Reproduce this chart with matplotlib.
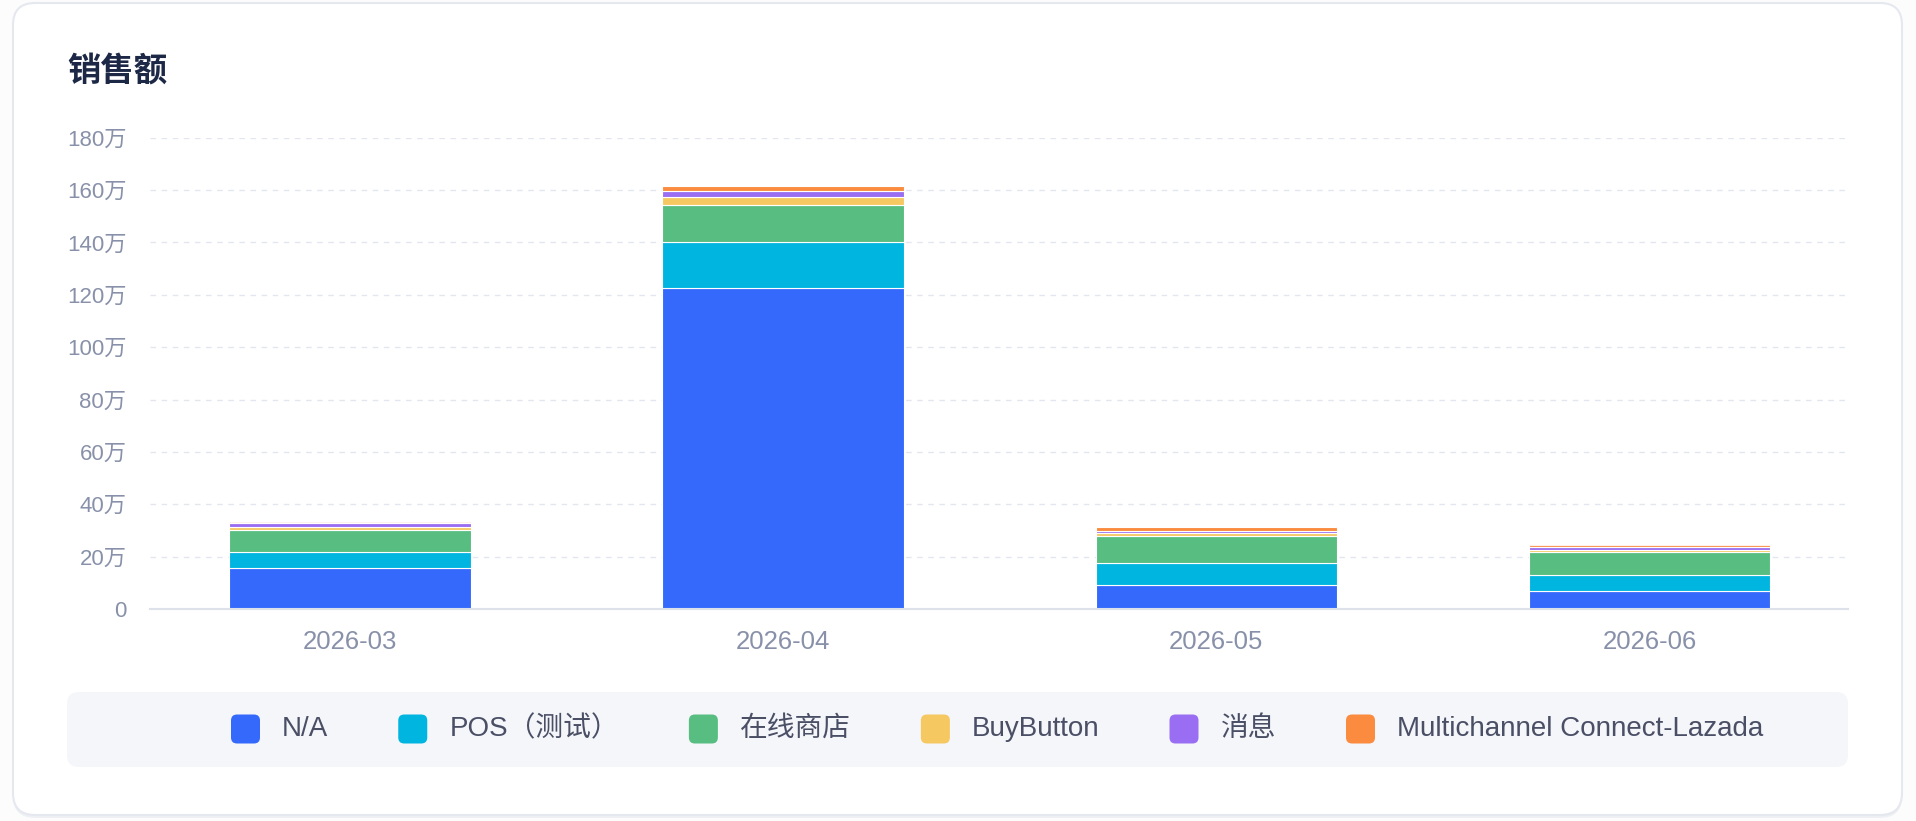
import matplotlib
matplotlib.use("Agg")
import matplotlib.pyplot as plt
from matplotlib.patches import FancyBboxPatch
from matplotlib.transforms import IdentityTransform
from matplotlib.ticker import FuncFormatter, MultipleLocator
import numpy as np

plt.rcParams['font.family'] = ['Liberation Sans', 'Noto Sans CJK SC', 'DejaVu Sans']

# data (sales per month, per channel)
months = ['2026-03', '2026-04', '2026-05', '2026-06']
channels = ['N/A', 'POS（测试）', '在线商店', 'BuyButton', '消息', 'Multichannel Connect-Lazada']
colors = ['#3469fb', '#00b5e0', '#57bd80', '#f6c862', '#9a6ef2', '#fa8b3f']

sales_na = [157000, 1226000, 92000, 69000]
sales_pos = [61000, 175000, 83000, 60000]
sales_online = [84000, 142000, 104000, 88000]
sales_buybutton = [12000, 32000, 10000, 10000]
sales_message = [13000, 23000, 9000, 8000]
sales_lazada = [4000, 19000, 16000, 8000]
series = [sales_na, sales_pos, sales_online, sales_buybutton, sales_message, sales_lazada]

W, H = 1916, 821
fig = plt.figure(figsize=(W / 100, H / 100), dpi=100)
fig.patch.set_facecolor('#fcfcfd')


def px_box(x0, y0, x1, y1, r, **kw):
    # box in pixel coords, y measured from the top
    p = FancyBboxPatch((x0, H - y1), x1 - x0, y1 - y0,
                       boxstyle="round,pad=0,rounding_size=%s" % r,
                       transform=IdentityTransform(), **kw)
    fig.add_artist(p)
    return p


# card + shadow
px_box(13, 5, 1902, 818, 22, facecolor='#eef0f4', edgecolor='none', zorder=-2)
px_box(13, 3, 1902, 815, 22, facecolor='white', edgecolor='#e6e8ef', lw=1.5, zorder=-1)

fig.text(67 / W, 1 - 72 / H, '销售额', fontsize=24, fontweight='bold',
         color='#1c2846', va='center', ha='left', family='Noto Sans CJK SC')

ax_l, ax_r, ax_t, ax_b = 150, 1848, 137.7, 609
ax = fig.add_axes([ax_l / W, (H - ax_b) / H, (ax_r - ax_l) / W, (ax_b - ax_t) / H])
ax.set_facecolor('none')
ax.set_zorder(2)

x = np.arange(len(months))
width = 0.558
step = 433.2
ax.set_xlim((ax_l - 350) / step, (ax_r - 350) / step)
ax.set_ylim(0, 1800000)

bottom = np.zeros(len(months))
patches_by_month = [[] for _ in months]
for vals, c, name in zip(series, colors, channels):
    bars = ax.bar(x, vals, width, bottom=bottom, color=c, edgecolor='white',
                  linewidth=0.8, label=name, zorder=3)
    for i, b in enumerate(bars):
        patches_by_month[i].append(b)
    bottom = bottom + np.array(vals)

# rounded top corners via clip path
px_x = (ax_r - ax_l) / (ax.get_xlim()[1] - ax.get_xlim()[0])
px_y = (ax_b - ax_t) / (ax.get_ylim()[1] - ax.get_ylim()[0])
r_px = 7
rx = r_px / px_x
asp = (r_px / px_y) / rx
for i in range(len(months)):
    clip = FancyBboxPatch((x[i] - width / 2 - 0.01, -200000), width + 0.02, bottom[i] + 200000,
                          boxstyle="round,pad=0,rounding_size=%s" % rx,
                          mutation_aspect=asp, transform=ax.transData)
    for b in patches_by_month[i]:
        b.set_clip_path(clip)

ax.yaxis.set_major_locator(MultipleLocator(200000))
ax.yaxis.set_major_formatter(FuncFormatter(lambda v, p: '0' if v == 0 else '%d万' % round(v / 10000)))
ax.set_xticks(x)
ax.set_xticklabels(months)
ax.tick_params(axis='both', length=0, colors='#8891a9')
ax.tick_params(axis='y', labelsize=16, pad=17)
ax.tick_params(axis='x', labelsize=18.5, pad=15)
ax.yaxis.grid(True, color='#e3e6ee', linestyle=(0, (4, 4)), linewidth=1)
ax.set_axisbelow(True)
for s in ['top', 'right', 'left']:
    ax.spines[s].set_visible(False)
ax.spines['bottom'].set_color('#dde1ea')
ax.spines['bottom'].set_linewidth(1.5)
ax.spines['bottom'].set_zorder(4)

# legend
px_box(67, 692, 1848, 767, 12, facecolor='#f5f6fa', edgecolor='none', zorder=0)
renderer = fig.canvas.get_renderer()
lx = 231
ly = 729
for name, c in zip(channels, colors):
    px_box(lx, ly - 14.5, lx + 29, ly + 14.5, 6, facecolor=c, edgecolor='none', zorder=1)
    t = fig.text((lx + 51) / W, 1 - ly / H, name, fontsize=20, color='#4a4f66',
                 va='center', ha='left')
    tw = t.get_window_extent(renderer).width
    lx = lx + 51 + tw + 70

fig.savefig('out.png', dpi=100, facecolor=fig.get_facecolor())
